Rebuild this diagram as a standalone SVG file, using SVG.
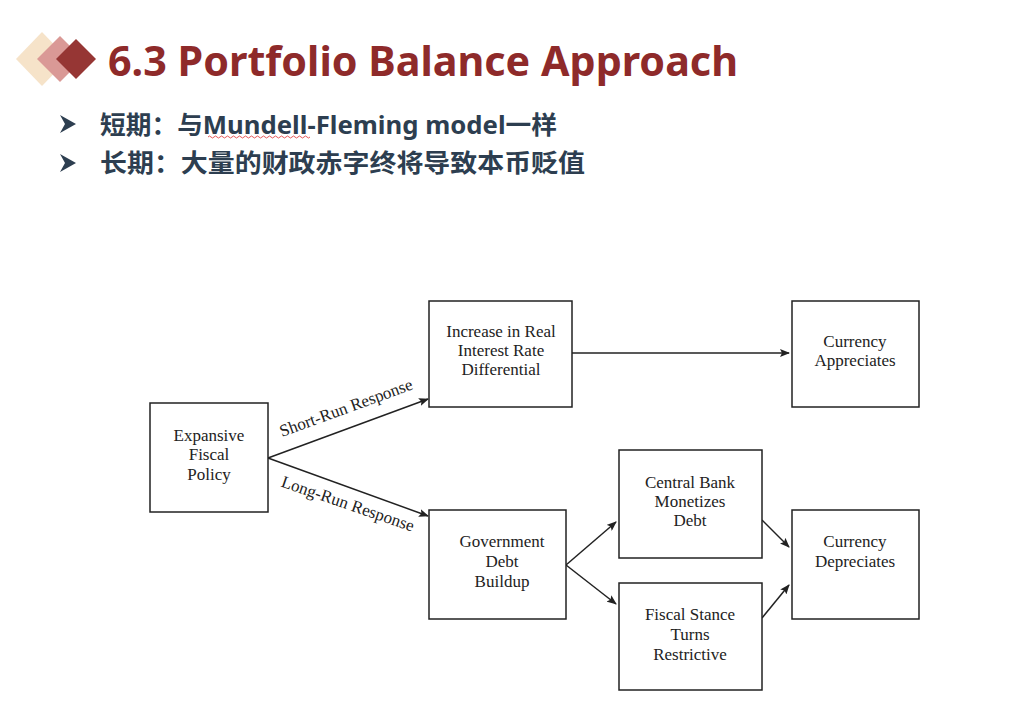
<svg xmlns="http://www.w3.org/2000/svg" width="1021" height="724" viewBox="0 0 1021 724">
<defs>
<marker id="ah" markerWidth="10" markerHeight="8" refX="9" refY="4" orient="auto" markerUnits="userSpaceOnUse">
<path d="M0,0 L10,4 L0,8 L2,4 Z" fill="#222"/>
</marker>
<style>
.box{fill:#fff;stroke:#222;stroke-width:1.5}
.nt{font-family:"Liberation Serif","Times New Roman",serif;font-size:17px;fill:#222;text-anchor:middle}
.lb{font-family:"Liberation Serif","Times New Roman",serif;font-size:17px;fill:#222;text-anchor:middle}
.cn{stroke:#222;stroke-width:1.5;fill:none;marker-end:url(#ah)}
.bl{font-family:"Noto Sans","Noto Sans CJK SC",sans-serif;font-weight:bold;font-size:25px;fill:#2D3E50}
</style>
</defs>
<rect width="1021" height="724" fill="#fff"/>
<g id="header">
<polygon points="42,32 68,59 42,86 16,59" fill="#F6E3C9"/>
<polygon points="60,36 83,59 60,82 37,59" fill="#DA9996"/>
<polygon points="76,39 96,59 76,79 56,59" fill="#963634"/>
<text x="108" y="76" textLength="630" lengthAdjust="spacingAndGlyphs" font-family="'Noto Sans','Open Sans',sans-serif" font-weight="bold" font-size="42" fill="#8E2A2A">6.3 Portfolio Balance Approach</text>
<polygon points="60,115 76,124 60,133 65,124" fill="#2D3E50"/>
<polygon points="60,154 76,163 60,172 65,163" fill="#2D3E50"/>
<text class="bl" x="100" y="134" textLength="457" lengthAdjust="spacingAndGlyphs">短期：与Mundell-Fleming model一样</text>
<path d="M208,137 q1.5,-2 3,0 t3,0 t3,0 t3,0 t3,0 t3,0 t3,0 t3,0 t3,0 t3,0 t3,0 t3,0 t3,0 t3,0 t3,0 t3,0 t3,0 t3,0 t3,0 t3,0 t3,0 t3,0 t3,0 t3,0 t3,0 t3,0 t3,0 t3,0 t3,0 t3,0 t3,0 t3,0 t3,0 t3,0" stroke="#E03030" stroke-width="0.8" fill="none"/>
<text class="bl" x="100" y="172" textLength="485" lengthAdjust="spacingAndGlyphs">长期：大量的财政赤字终将导致本币贬值</text>
</g>
<g id="connectors">
<line class="cn" x1="268" y1="458" x2="428" y2="399"/>
<line class="cn" x1="268" y1="458" x2="428" y2="516"/>
<line class="cn" x1="572" y1="353" x2="789" y2="353"/>
<line class="cn" x1="566" y1="565" x2="616" y2="522"/>
<line class="cn" x1="566" y1="565" x2="616" y2="604"/>
<line class="cn" x1="762" y1="520" x2="789" y2="547"/>
<line class="cn" x1="762" y1="618" x2="789" y2="585"/>
<text class="lb" x="348" y="413" transform="rotate(-20 348 413)">Short-Run Response</text>
<text class="lb" x="346" y="509" transform="rotate(19 346 509)">Long-Run Response</text>
</g>
<g id="n-expansive">
<rect class="box" x="150" y="403" width="118" height="109"/>
<text class="nt" x="209" y="441">Expansive</text>
<text class="nt" x="209" y="460">Fiscal</text>
<text class="nt" x="209" y="480">Policy</text>
</g>
<g id="n-increase">
<rect class="box" x="429" y="301" width="143" height="106"/>
<text class="nt" x="501" y="337">Increase in Real</text>
<text class="nt" x="501" y="356">Interest Rate</text>
<text class="nt" x="501" y="375">Differential</text>
</g>
<g id="n-appreciates">
<rect class="box" x="792" y="301" width="127" height="106"/>
<text class="nt" x="855" y="347">Currency</text>
<text class="nt" x="855" y="366">Appreciates</text>
</g>
<g id="n-debt">
<rect class="box" x="429" y="510" width="137" height="109"/>
<text class="nt" x="502" y="547">Government</text>
<text class="nt" x="502" y="567">Debt</text>
<text class="nt" x="502" y="587">Buildup</text>
</g>
<g id="n-monetizes">
<rect class="box" x="619" y="450" width="143" height="108"/>
<text class="nt" x="690" y="488">Central Bank</text>
<text class="nt" x="690" y="507">Monetizes</text>
<text class="nt" x="690" y="526">Debt</text>
</g>
<g id="n-restrictive">
<rect class="box" x="619" y="583" width="143" height="107"/>
<text class="nt" x="690" y="620">Fiscal Stance</text>
<text class="nt" x="690" y="640">Turns</text>
<text class="nt" x="690" y="660">Restrictive</text>
</g>
<g id="n-depreciates">
<rect class="box" x="792" y="510" width="127" height="109"/>
<text class="nt" x="855" y="547">Currency</text>
<text class="nt" x="855" y="567">Depreciates</text>
</g>
</svg>
